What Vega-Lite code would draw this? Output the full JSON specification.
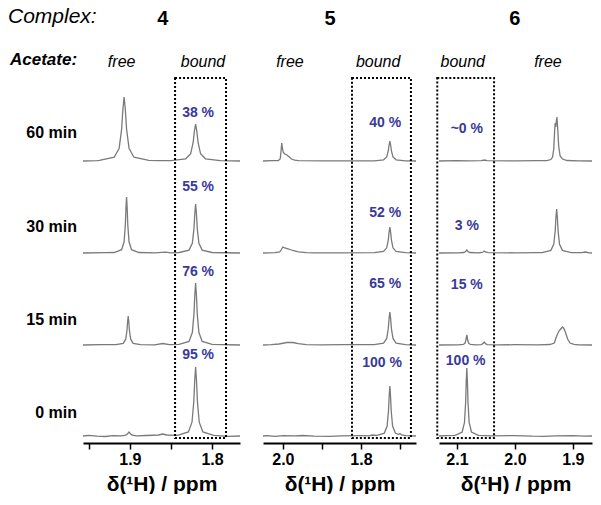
{
  "$schema": "https://vega.github.io/schema/vega-lite/v6.json",
  "padding": 0,
  "background": "white",
  "bounds": "flush",
  "spacing": 23,
  "config": {
    "font": "Liberation Sans",
    "view": {"stroke": null},
    "axis": {
      "domainColor": "black", "domainWidth": 2, "tickColor": "black", "tickWidth": 1.5, "tickSize": 6,
      "labelFont": "Liberation Sans", "labelFontSize": 16, "labelFontWeight": "bold", "labelColor": "black",
      "labelPadding": 2, "labelFlush": false, "labelOverlap": false,
      "titleFont": "Liberation Sans", "titleFontSize": 21, "titleFontWeight": "bold", "titleColor": "black",
      "titlePadding": 6, "grid": false
    }
  },
  "datasets": {
    "labels": [
      {"panel": 0, "kind": "complex", "x": 8, "y": 419, "text": "Complex:"},
      {"panel": 0, "kind": "acetate", "x": 10, "y": 376, "text": "Acetate:"},
      {"panel": 0, "kind": "time", "x": 77, "y": 303, "text": "60 min"},
      {"panel": 0, "kind": "time", "x": 77, "y": 209, "text": "30 min"},
      {"panel": 0, "kind": "time", "x": 77, "y": 116, "text": "15 min"},
      {"panel": 0, "kind": "time", "x": 77, "y": 23, "text": "0 min"},
      {"panel": 1, "kind": "head", "x": 1.86, "y": 417, "text": "4"},
      {"panel": 1, "kind": "state", "x": 1.91, "y": 374, "text": "free"},
      {"panel": 1, "kind": "state", "x": 1.811, "y": 374, "text": "bound"},
      {"panel": 1, "kind": "pct", "x": 1.817, "y": 323, "text": "38 %"},
      {"panel": 1, "kind": "pct", "x": 1.817, "y": 249, "text": "55 %"},
      {"panel": 1, "kind": "pct", "x": 1.817, "y": 164, "text": "76 %"},
      {"panel": 1, "kind": "pct", "x": 1.817, "y": 81, "text": "95 %"},
      {"panel": 2, "kind": "head", "x": 1.879, "y": 417, "text": "5"},
      {"panel": 2, "kind": "state", "x": 1.982, "y": 374, "text": "free"},
      {"panel": 2, "kind": "state", "x": 1.756, "y": 374, "text": "bound"},
      {"panel": 2, "kind": "pct", "x": 1.738, "y": 313, "text": "40 %"},
      {"panel": 2, "kind": "pct", "x": 1.738, "y": 223, "text": "52 %"},
      {"panel": 2, "kind": "pct", "x": 1.738, "y": 152, "text": "65 %"},
      {"panel": 2, "kind": "pct", "x": 1.746, "y": 73, "text": "100 %"},
      {"panel": 3, "kind": "head", "x": 2.0, "y": 417, "text": "6"},
      {"panel": 3, "kind": "state", "x": 2.09, "y": 374, "text": "bound"},
      {"panel": 3, "kind": "state", "x": 1.943, "y": 374, "text": "free"},
      {"panel": 3, "kind": "pct", "x": 2.083, "y": 307, "text": "~0 %"},
      {"panel": 3, "kind": "pct", "x": 2.083, "y": 210, "text": "3 %"},
      {"panel": 3, "kind": "pct", "x": 2.083, "y": 151, "text": "15 %"},
      {"panel": 3, "kind": "pct", "x": 2.085, "y": 75, "text": "100 %"}
    ],
    "boxes": [
      {"panel": 1, "x": 1.845, "x2": 1.783, "y": -2, "y2": 358},
      {"panel": 2, "x": 1.823, "x2": 1.672, "y": -2, "y2": 358},
      {"panel": 3, "x": 2.134, "x2": 2.036, "y": -2, "y2": 358}
    ],
    "s4": [
      {"t":"60","x":1.957,"y":275},{"t":"60","x":1.94,"y":275.4},{"t":"60","x":1.937,"y":275.6},{"t":"60","x":1.919,"y":278.8},{"t":"60","x":1.913,"y":287.8},{"t":"60","x":1.910,"y":307},{"t":"60","x":1.9085,"y":326.2},{"t":"60","x":1.907,"y":339},{"t":"60","x":1.9055,"y":326.2},{"t":"60","x":1.904,"y":307},{"t":"60","x":1.901,"y":287.8},{"t":"60","x":1.895,"y":278.8},{"t":"60","x":1.877,"y":275.6},{"t":"60","x":1.865,"y":275.3},{"t":"60","x":1.850,"y":275.4},{"t":"60","x":1.832,"y":277.2},{"t":"60","x":1.826,"y":282.4},{"t":"60","x":1.823,"y":293.5},{"t":"60","x":1.8215,"y":304.6},{"t":"60","x":1.820,"y":312},{"t":"60","x":1.8185,"y":304.6},{"t":"60","x":1.817,"y":293.5},{"t":"60","x":1.814,"y":282.4},{"t":"60","x":1.808,"y":277.2},{"t":"60","x":1.790,"y":275.4},{"t":"60","x":1.766,"y":275},
      {"t":"30","x":1.957,"y":183},{"t":"30","x":1.93,"y":183.3},{"t":"30","x":1.919,"y":183.5},{"t":"30","x":1.910,"y":186.3},{"t":"30","x":1.907,"y":194.2},{"t":"30","x":1.9055,"y":211},{"t":"30","x":1.90475,"y":227.8},{"t":"30","x":1.904,"y":239},{"t":"30","x":1.90325,"y":227.8},{"t":"30","x":1.9025,"y":211},{"t":"30","x":1.901,"y":194.2},{"t":"30","x":1.898,"y":186.3},{"t":"30","x":1.889,"y":183.5},{"t":"30","x":1.87,"y":183.2},{"t":"30","x":1.857,"y":183.8},{"t":"30","x":1.85,"y":183.2},{"t":"30","x":1.840,"y":183.5},{"t":"30","x":1.828,"y":185.9},{"t":"30","x":1.824,"y":192.8},{"t":"30","x":1.822,"y":207.5},{"t":"30","x":1.821,"y":222.2},{"t":"30","x":1.820,"y":232},{"t":"30","x":1.819,"y":222.2},{"t":"30","x":1.818,"y":207.5},{"t":"30","x":1.816,"y":192.8},{"t":"30","x":1.812,"y":185.9},{"t":"30","x":1.800,"y":183.5},{"t":"30","x":1.766,"y":183},
      {"t":"15","x":1.957,"y":91},{"t":"15","x":1.935,"y":91.4},{"t":"15","x":1.917,"y":91.3},{"t":"15","x":1.908,"y":92.7},{"t":"15","x":1.905,"y":96.8},{"t":"15","x":1.9035,"y":105.5},{"t":"15","x":1.90275,"y":114.2},{"t":"15","x":1.902,"y":120},{"t":"15","x":1.90125,"y":114.2},{"t":"15","x":1.9005,"y":105.5},{"t":"15","x":1.899,"y":96.8},{"t":"15","x":1.896,"y":92.7},{"t":"15","x":1.887,"y":91.3},{"t":"15","x":1.87,"y":91.2},{"t":"15","x":1.86,"y":92.5},{"t":"15","x":1.852,"y":91.3},{"t":"15","x":1.840,"y":91.6},{"t":"15","x":1.828,"y":94.6},{"t":"15","x":1.824,"y":103.4},{"t":"15","x":1.822,"y":122},{"t":"15","x":1.821,"y":140.6},{"t":"15","x":1.820,"y":153},{"t":"15","x":1.819,"y":140.6},{"t":"15","x":1.818,"y":122},{"t":"15","x":1.816,"y":103.4},{"t":"15","x":1.812,"y":94.6},{"t":"15","x":1.800,"y":91.6},{"t":"15","x":1.766,"y":91},
      {"t":"0","x":1.957,"y":0},{"t":"0","x":1.95,"y":0.6},{"t":"0","x":1.94,"y":-0.2},{"t":"0","x":1.93,"y":-0.5},{"t":"0","x":1.92,"y":0.3},{"t":"0","x":1.910,"y":0.2},{"t":"0","x":1.905,"y":0.8},{"t":"0","x":1.903,"y":2},{"t":"0","x":1.901,"y":4},{"t":"0","x":1.899,"y":2},{"t":"0","x":1.897,"y":0.8},{"t":"0","x":1.892,"y":0.2},{"t":"0","x":1.88,"y":0.5},{"t":"0","x":1.865,"y":1},{"t":"0","x":1.86,"y":2},{"t":"0","x":1.855,"y":1},{"t":"0","x":1.842,"y":0.7},{"t":"0","x":1.8288,"y":4.1},{"t":"0","x":1.8244,"y":13.8},{"t":"0","x":1.8222,"y":34.5},{"t":"0","x":1.8211,"y":55.2},{"t":"0","x":1.820,"y":69},{"t":"0","x":1.8189,"y":55.2},{"t":"0","x":1.8178,"y":34.5},{"t":"0","x":1.8156,"y":13.8},{"t":"0","x":1.8112,"y":4.1},{"t":"0","x":1.798,"y":0.7},{"t":"0","x":1.78,"y":-0.3},{"t":"0","x":1.766,"y":0}
    ],
    "s5": [
      {"t":"60","x":2.051,"y":275},{"t":"60","x":2.03,"y":275.3},{"t":"60","x":2.012,"y":275.4},{"t":"60","x":2.007,"y":277},{"t":"60","x":2.005,"y":284},{"t":"60","x":2.003,"y":293},{"t":"60","x":2.001,"y":287},{"t":"60","x":1.999,"y":283.5},{"t":"60","x":1.995,"y":282},{"t":"60","x":1.990,"y":281},{"t":"60","x":1.985,"y":279.5},{"t":"60","x":1.978,"y":277},{"t":"60","x":1.970,"y":275.8},{"t":"60","x":1.96,"y":275.3},{"t":"60","x":1.9,"y":275.1},{"t":"60","x":1.8,"y":275.2},{"t":"60","x":1.766,"y":275.2},{"t":"60","x":1.742,"y":276.2},{"t":"60","x":1.734,"y":279},{"t":"60","x":1.730,"y":285},{"t":"60","x":1.728,"y":291},{"t":"60","x":1.726,"y":295},{"t":"60","x":1.724,"y":291},{"t":"60","x":1.722,"y":285},{"t":"60","x":1.718,"y":279},{"t":"60","x":1.710,"y":276.2},{"t":"60","x":1.686,"y":275.2},{"t":"60","x":1.659,"y":275},
      {"t":"30","x":2.051,"y":183},{"t":"30","x":2.02,"y":183.3},{"t":"30","x":2.008,"y":184.2},{"t":"30","x":2.004,"y":186.5},{"t":"30","x":2.000,"y":189},{"t":"30","x":1.995,"y":188},{"t":"30","x":1.985,"y":187},{"t":"30","x":1.975,"y":185.5},{"t":"30","x":1.96,"y":184.2},{"t":"30","x":1.94,"y":183.4},{"t":"30","x":1.92,"y":183.1},{"t":"30","x":1.85,"y":183.2},{"t":"30","x":1.766,"y":183.3},{"t":"30","x":1.742,"y":184.5},{"t":"30","x":1.734,"y":188.2},{"t":"30","x":1.730,"y":196},{"t":"30","x":1.728,"y":203.8},{"t":"30","x":1.726,"y":209},{"t":"30","x":1.724,"y":203.8},{"t":"30","x":1.722,"y":196},{"t":"30","x":1.718,"y":188.2},{"t":"30","x":1.710,"y":184.5},{"t":"30","x":1.686,"y":183.3},{"t":"30","x":1.659,"y":183},
      {"t":"15","x":2.051,"y":91},{"t":"15","x":2.03,"y":91.4},{"t":"15","x":2.01,"y":92},{"t":"15","x":1.99,"y":93.5},{"t":"15","x":1.975,"y":93.5},{"t":"15","x":1.96,"y":92.3},{"t":"15","x":1.94,"y":91.3},{"t":"15","x":1.9,"y":91.1},{"t":"15","x":1.85,"y":91.3},{"t":"15","x":1.766,"y":91.3},{"t":"15","x":1.742,"y":92.9},{"t":"15","x":1.734,"y":97.6},{"t":"15","x":1.730,"y":107.5},{"t":"15","x":1.728,"y":117.4},{"t":"15","x":1.726,"y":124},{"t":"15","x":1.724,"y":117.4},{"t":"15","x":1.722,"y":107.5},{"t":"15","x":1.718,"y":97.6},{"t":"15","x":1.710,"y":92.9},{"t":"15","x":1.686,"y":91.3},{"t":"15","x":1.659,"y":91},
      {"t":"0","x":2.051,"y":0},{"t":"0","x":2.04,"y":0.4},{"t":"0","x":2.02,"y":-0.3},{"t":"0","x":2.0,"y":0.3},{"t":"0","x":1.97,"y":0.2},{"t":"0","x":1.95,"y":0.5},{"t":"0","x":1.92,"y":-0.2},{"t":"0","x":1.88,"y":-0.3},{"t":"0","x":1.85,"y":0.2},{"t":"0","x":1.80,"y":0.3},{"t":"0","x":1.78,"y":0.2},{"t":"0","x":1.77,"y":1},{"t":"0","x":1.761,"y":0.5},{"t":"0","x":1.740,"y":2.9},{"t":"0","x":1.733,"y":10},{"t":"0","x":1.7295,"y":25},{"t":"0","x":1.72775,"y":40},{"t":"0","x":1.726,"y":50},{"t":"0","x":1.72425,"y":40},{"t":"0","x":1.7225,"y":25},{"t":"0","x":1.719,"y":10},{"t":"0","x":1.712,"y":2.9},{"t":"0","x":1.704,"y":1.5},{"t":"0","x":1.700,"y":2.5},{"t":"0","x":1.696,"y":1},{"t":"0","x":1.685,"y":0.3},{"t":"0","x":1.659,"y":0}
    ],
    "s6": [
      {"t":"60","x":2.131,"y":275},{"t":"60","x":2.10,"y":275.3},{"t":"60","x":2.08,"y":275.2},{"t":"60","x":2.058,"y":275.3},{"t":"60","x":2.053,"y":276},{"t":"60","x":2.048,"y":275.3},{"t":"60","x":2.0,"y":275.2},{"t":"60","x":1.96,"y":275.4},{"t":"60","x":1.945,"y":275.3},{"t":"60","x":1.938,"y":276.5},{"t":"60","x":1.935,"y":279},{"t":"60","x":1.933,"y":287},{"t":"60","x":1.9315,"y":305},{"t":"60","x":1.9305,"y":313},{"t":"60","x":1.9295,"y":309},{"t":"60","x":1.9285,"y":315},{"t":"60","x":1.9275,"y":319},{"t":"60","x":1.926,"y":306},{"t":"60","x":1.9245,"y":290},{"t":"60","x":1.922,"y":280},{"t":"60","x":1.918,"y":277},{"t":"60","x":1.91,"y":275.5},{"t":"60","x":1.89,"y":275.2},{"t":"60","x":1.867,"y":275},
      {"t":"30","x":2.131,"y":183},{"t":"30","x":2.098,"y":183.1},{"t":"30","x":2.088,"y":183.5},{"t":"30","x":2.085,"y":184.5},{"t":"30","x":2.083,"y":186},{"t":"30","x":2.081,"y":184.5},{"t":"30","x":2.078,"y":183.5},{"t":"30","x":2.063,"y":183.2},{"t":"30","x":2.058,"y":183.5},{"t":"30","x":2.055,"y":184},{"t":"30","x":2.053,"y":185},{"t":"30","x":2.051,"y":184},{"t":"30","x":2.046,"y":183.3},{"t":"30","x":2.0,"y":183.2},{"t":"30","x":1.96,"y":183.3},{"t":"30","x":1.953,"y":183.4},{"t":"30","x":1.938,"y":185.6},{"t":"30","x":1.933,"y":191.8},{"t":"30","x":1.9305,"y":205},{"t":"30","x":1.92925,"y":218.2},{"t":"30","x":1.928,"y":227},{"t":"30","x":1.92675,"y":218.2},{"t":"30","x":1.9255,"y":205},{"t":"30","x":1.923,"y":191.8},{"t":"30","x":1.918,"y":185.6},{"t":"30","x":1.903,"y":183.4},{"t":"30","x":1.885,"y":183.3},{"t":"30","x":1.878,"y":184},{"t":"30","x":1.872,"y":183.2},{"t":"30","x":1.867,"y":183},
      {"t":"15","x":2.131,"y":91},{"t":"15","x":2.098,"y":91.1},{"t":"15","x":2.089,"y":91.6},{"t":"15","x":2.086,"y":93},{"t":"15","x":2.0845,"y":96},{"t":"15","x":2.08375,"y":99},{"t":"15","x":2.083,"y":101},{"t":"15","x":2.08225,"y":99},{"t":"15","x":2.0815,"y":96},{"t":"15","x":2.080,"y":93},{"t":"15","x":2.077,"y":91.6},{"t":"15","x":2.068,"y":91.2},{"t":"15","x":2.058,"y":91.4},{"t":"15","x":2.055,"y":92.5},{"t":"15","x":2.053,"y":94},{"t":"15","x":2.051,"y":92.5},{"t":"15","x":2.048,"y":91.4},{"t":"15","x":2.03,"y":91.1},{"t":"15","x":2.0,"y":91.3},{"t":"15","x":1.96,"y":91.2},{"t":"15","x":1.94,"y":91.5},{"t":"15","x":1.932,"y":93},{"t":"15","x":1.928,"y":100},{"t":"15","x":1.924,"y":105},{"t":"15","x":1.921,"y":107},{"t":"15","x":1.918,"y":109},{"t":"15","x":1.916,"y":108},{"t":"15","x":1.913,"y":104},{"t":"15","x":1.909,"y":97},{"t":"15","x":1.905,"y":93},{"t":"15","x":1.898,"y":91.6},{"t":"15","x":1.89,"y":91.2},{"t":"15","x":1.867,"y":91},
      {"t":"0","x":2.131,"y":0},{"t":"0","x":2.12,"y":0.3},{"t":"0","x":2.103,"y":0.7},{"t":"0","x":2.091,"y":4},{"t":"0","x":2.087,"y":13.6},{"t":"0","x":2.085,"y":34},{"t":"0","x":2.084,"y":54.4},{"t":"0","x":2.083,"y":68},{"t":"0","x":2.082,"y":54.4},{"t":"0","x":2.081,"y":34},{"t":"0","x":2.079,"y":13.6},{"t":"0","x":2.075,"y":4},{"t":"0","x":2.063,"y":0.7},{"t":"0","x":2.04,"y":0.2},{"t":"0","x":2.0,"y":0.4},{"t":"0","x":1.97,"y":-0.2},{"t":"0","x":1.95,"y":-0.3},{"t":"0","x":1.93,"y":0.2},{"t":"0","x":1.9,"y":0.4},{"t":"0","x":1.88,"y":-0.2},{"t":"0","x":1.867,"y":0}
    ]
  },
  "hconcat": [
    {
      "width": 60, "height": 443,
      "data": {"name": "labels"},
      "transform": [{"filter": "datum.panel == 0"}],
      "encoding": {
        "x": {"field": "x", "type": "quantitative", "scale": {"domain": [0, 60], "nice": false, "zero": false}, "axis": null},
        "y": {"field": "y", "type": "quantitative", "scale": {"domain": [-7, 436], "nice": false, "zero": false}, "axis": null},
        "text": {"field": "text"}
      },
      "layer": [
        {"transform": [{"filter": "datum.kind == 'complex'"}], "mark": {"type": "text", "align": "left", "baseline": "middle", "fontStyle": "italic", "fontSize": 21, "color": "black"}},
        {"transform": [{"filter": "datum.kind == 'acetate'"}], "mark": {"type": "text", "align": "left", "baseline": "middle", "fontStyle": "italic", "fontWeight": "bold", "fontSize": 17, "color": "black"}},
        {"transform": [{"filter": "datum.kind == 'time'"}], "mark": {"type": "text", "align": "right", "baseline": "middle", "fontWeight": "bold", "fontSize": 16, "color": "black"}}
      ]
    },
    {
      "width": 157, "height": 443,
      "encoding": {
        "x": {"field": "x", "type": "quantitative", "scale": {"domain": [1.766, 1.957], "reverse": true, "nice": false, "zero": false},
              "axis": {"values": [1.95, 1.9, 1.85, 1.8], "labelExpr": "round(datum.value*100) % 10 == 0 ? format(datum.value, '.1f') : ''", "title": "δ(¹H) / ppm"}},
        "y": {"field": "y", "type": "quantitative", "scale": {"domain": [-7, 436], "nice": false, "zero": false}, "axis": null}
      },
      "layer": [
        {"data": {"name": "s4"}, "mark": {"type": "line", "color": "#7a7a7a", "strokeWidth": 1.3}, "encoding": {"detail": {"field": "t"}}},
        {"data": {"name": "boxes"}, "transform": [{"filter": "datum.panel == 1"}], "mark": {"type": "rect", "filled": false, "stroke": "black", "strokeWidth": 2, "strokeDash": [2, 2]}, "encoding": {"x2": {"field": "x2"}, "y2": {"field": "y2"}}},
        {"data": {"name": "labels"}, "transform": [{"filter": "datum.panel == 1 && datum.kind == 'head'"}], "mark": {"type": "text", "baseline": "middle", "fontWeight": "bold", "fontSize": 20, "color": "black"}, "encoding": {"text": {"field": "text"}}},
        {"data": {"name": "labels"}, "transform": [{"filter": "datum.panel == 1 && datum.kind == 'state'"}], "mark": {"type": "text", "baseline": "middle", "fontStyle": "italic", "fontSize": 16, "color": "black"}, "encoding": {"text": {"field": "text"}}},
        {"data": {"name": "labels"}, "transform": [{"filter": "datum.panel == 1 && datum.kind == 'pct'"}], "mark": {"type": "text", "baseline": "middle", "fontWeight": "bold", "fontSize": 14, "color": "#39399a"}, "encoding": {"text": {"field": "text"}}}
      ]
    },
    {
      "width": 153, "height": 443,
      "encoding": {
        "x": {"field": "x", "type": "quantitative", "scale": {"domain": [1.659, 2.051], "reverse": true, "nice": false, "zero": false},
              "axis": {"values": [2.0, 1.9, 1.8, 1.7], "labelExpr": "round(datum.value*10) % 2 == 0 ? format(datum.value, '.1f') : ''", "title": "δ(¹H) / ppm"}},
        "y": {"field": "y", "type": "quantitative", "scale": {"domain": [-7, 436], "nice": false, "zero": false}, "axis": null}
      },
      "layer": [
        {"data": {"name": "s5"}, "mark": {"type": "line", "color": "#7a7a7a", "strokeWidth": 1.3}, "encoding": {"detail": {"field": "t"}}},
        {"data": {"name": "boxes"}, "transform": [{"filter": "datum.panel == 2"}], "mark": {"type": "rect", "filled": false, "stroke": "black", "strokeWidth": 2, "strokeDash": [2, 2]}, "encoding": {"x2": {"field": "x2"}, "y2": {"field": "y2"}}},
        {"data": {"name": "labels"}, "transform": [{"filter": "datum.panel == 2 && datum.kind == 'head'"}], "mark": {"type": "text", "baseline": "middle", "fontWeight": "bold", "fontSize": 20, "color": "black"}, "encoding": {"text": {"field": "text"}}},
        {"data": {"name": "labels"}, "transform": [{"filter": "datum.panel == 2 && datum.kind == 'state'"}], "mark": {"type": "text", "baseline": "middle", "fontStyle": "italic", "fontSize": 16, "color": "black"}, "encoding": {"text": {"field": "text"}}},
        {"data": {"name": "labels"}, "transform": [{"filter": "datum.panel == 2 && datum.kind == 'pct'"}], "mark": {"type": "text", "baseline": "middle", "fontWeight": "bold", "fontSize": 14, "color": "#39399a"}, "encoding": {"text": {"field": "text"}}}
      ]
    },
    {
      "width": 153, "height": 443,
      "encoding": {
        "x": {"field": "x", "type": "quantitative", "scale": {"domain": [1.867, 2.131], "reverse": true, "nice": false, "zero": false},
              "axis": {"values": [2.1, 2.0, 1.9], "format": ".1f", "title": "δ(¹H) / ppm"}},
        "y": {"field": "y", "type": "quantitative", "scale": {"domain": [-7, 436], "nice": false, "zero": false}, "axis": null}
      },
      "layer": [
        {"data": {"name": "s6"}, "mark": {"type": "line", "color": "#7a7a7a", "strokeWidth": 1.3}, "encoding": {"detail": {"field": "t"}}},
        {"data": {"name": "boxes"}, "transform": [{"filter": "datum.panel == 3"}], "mark": {"type": "rect", "filled": false, "stroke": "black", "strokeWidth": 2, "strokeDash": [2, 2]}, "encoding": {"x2": {"field": "x2"}, "y2": {"field": "y2"}}},
        {"data": {"name": "labels"}, "transform": [{"filter": "datum.panel == 3 && datum.kind == 'head'"}], "mark": {"type": "text", "baseline": "middle", "fontWeight": "bold", "fontSize": 20, "color": "black"}, "encoding": {"text": {"field": "text"}}},
        {"data": {"name": "labels"}, "transform": [{"filter": "datum.panel == 3 && datum.kind == 'state'"}], "mark": {"type": "text", "baseline": "middle", "fontStyle": "italic", "fontSize": 16, "color": "black"}, "encoding": {"text": {"field": "text"}}},
        {"data": {"name": "labels"}, "transform": [{"filter": "datum.panel == 3 && datum.kind == 'pct'"}], "mark": {"type": "text", "baseline": "middle", "fontWeight": "bold", "fontSize": 14, "color": "#39399a"}, "encoding": {"text": {"field": "text"}}}
      ]
    }
  ]
}
